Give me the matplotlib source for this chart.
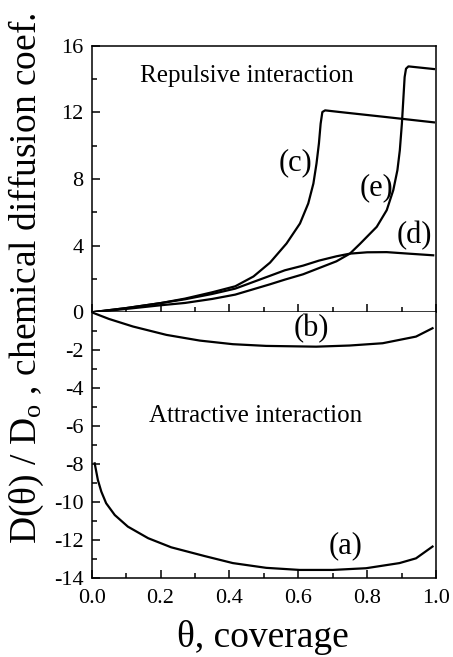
import matplotlib
matplotlib.use('Agg')
import matplotlib.pyplot as plt

plt.rcParams['font.family'] = 'Liberation Serif'
plt.rcParams['mathtext.fontset'] = 'custom'
plt.rcParams['mathtext.rm'] = 'Liberation Serif'
plt.rcParams['axes.unicode_minus'] = False

# repulsive curves (top panel)
xc = [0, 0.1, 0.2, 0.271, 0.35, 0.417, 0.47, 0.518, 0.566, 0.605, 0.629, 0.644, 0.653, 0.66, 0.665, 0.67, 0.678, 0.721, 0.85, 0.994]
yc = [0, 0.25, 0.55, 0.82, 1.2, 1.56, 2.15, 2.98, 4.13, 5.33, 6.53, 7.73, 8.93, 10.13, 11.32, 12.02, 12.12, 12.02, 11.73, 11.4]

xd = [0, 0.1, 0.2, 0.271, 0.35, 0.417, 0.518, 0.561, 0.614, 0.66, 0.711, 0.75, 0.8, 0.857, 0.92, 0.992]
yd = [0, 0.25, 0.55, 0.78, 1.1, 1.42, 2.19, 2.52, 2.8, 3.1, 3.36, 3.52, 3.6, 3.61, 3.52, 3.42]

xe = [0, 0.1, 0.2, 0.271, 0.35, 0.417, 0.518, 0.561, 0.614, 0.711, 0.75, 0.779, 0.828, 0.857, 0.876, 0.888, 0.895, 0.901, 0.905, 0.909, 0.913, 0.92, 0.994]
ye = [0, 0.2, 0.42, 0.56, 0.8, 1.06, 1.68, 1.96, 2.28, 3.06, 3.52, 4.1, 5.13, 6.13, 7.33, 8.53, 9.72, 11.32, 12.72, 14.12, 14.62, 14.76, 14.6]

# attractive curves (bottom panel)
xb = [0, 0.05, 0.12, 0.217, 0.314, 0.41, 0.507, 0.652, 0.749, 0.845, 0.942, 0.99]
yb = [0, -0.35, -0.75, -1.19, -1.49, -1.68, -1.77, -1.81, -1.75, -1.63, -1.28, -0.84]

xa = [0.0087, 0.018, 0.028, 0.042, 0.067, 0.105, 0.164, 0.231, 0.328, 0.41, 0.507, 0.604, 0.7, 0.797, 0.894, 0.942, 0.99]
ya = [-7.95, -8.83, -9.44, -10.05, -10.67, -11.28, -11.89, -12.37, -12.83, -13.2, -13.45, -13.56, -13.56, -13.47, -13.2, -12.95, -12.33]

xticks = [0.0, 0.2, 0.4, 0.6, 0.8, 1.0]
xlabels = ['0.0', '0.2', '0.4', '0.6', '0.8', '1.0']

fig = plt.figure(figsize=(4.53, 6.57), dpi=100)
ax1 = fig.add_axes([0.2024, 0.5247, 0.760, 0.4057])
ax2 = fig.add_axes([0.2024, 0.1198, 0.760, 0.4049])

for x, y in [(xc, yc), (xd, yd), (xe, ye)]:
    ax1.plot(x, y, color='black', lw=1.6)
for x, y in [(xb, yb), (xa, ya)]:
    ax2.plot(x, y, color='black', lw=1.6)

ax1.set_xlim(0, 1)
ax1.set_ylim(0, 16)
ax2.set_xlim(0, 1)
ax2.set_ylim(-14, 0)

ax1.set_yticks([0, 4, 8, 12, 16])
ax1.set_yticks([2, 6, 10, 14], minor=True)
ax2.set_yticks([-14, -12, -10, -8, -6, -4, -2])
ax2.set_yticks([-13, -11, -9, -7, -5, -3, -1], minor=True)
for ax in (ax1, ax2):
    ax.set_xticks(xticks)
    ax.set_xticks([0.1, 0.3, 0.5, 0.7, 0.9], minor=True)
    ax.tick_params(which='both', direction='in', top=False, right=False, labelsize=16, width=1.1)
    ax.tick_params(which='major', length=6)
    ax.tick_params(which='minor', length=3.5)
    ax.tick_params(axis='y', which='major', pad=6)
    ax.tick_params(axis='x', which='major', pad=8)
    for s in ax.spines.values():
        s.set_linewidth(1.1)
ax1.tick_params(axis='x', labelbottom=False)
ax2.spines['top'].set_visible(False)
ax2.set_xticklabels(xlabels)

ax1.text(0.452, 14.2, 'Repulsive interaction', fontsize=18, ha='center', va='center')
ax2.text(0.477, -5.48, 'Attractive interaction', fontsize=18, ha='center', va='center')

ax1.text(0.593, 9.0, '(c)', fontsize=22, ha='center', va='center')
ax1.text(0.826, 7.5, '(e)', fontsize=22, ha='center', va='center')
ax1.text(0.936, 4.63, '(d)', fontsize=22, ha='center', va='center')
ax2.text(0.638, -0.88, '(b)', fontsize=22, ha='center', va='center')
ax2.text(0.738, -12.3, '(a)', fontsize=22, ha='center', va='center')

fig.text(0.058, 0.576, r'D(θ) / D$\mathregular{_o}$ , chemical diffusion coef.',
         fontsize=27, rotation=90, ha='center', va='center')
fig.text(0.58, 0.03, 'θ, coverage', fontsize=27, ha='center', va='center')

fig.savefig('out.png', dpi=100)
